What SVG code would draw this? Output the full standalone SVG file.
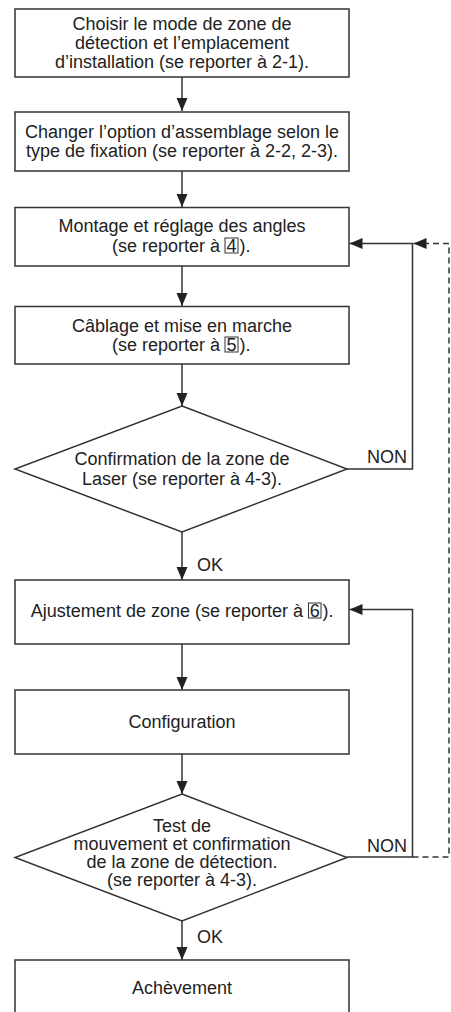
<svg xmlns="http://www.w3.org/2000/svg" width="451" height="1012" viewBox="0 0 451 1012">
<style>
.box{fill:#fff;stroke:#333;stroke-width:1.5}
.t{font-family:"Liberation Sans",Arial,sans-serif;font-size:18px;fill:#222;text-anchor:middle}
.ts{font-family:"Liberation Sans",Arial,sans-serif;font-size:18px;fill:#222}
.num{fill:none;stroke:#333;stroke-width:1}
.c{fill:none;stroke:#333;stroke-width:1.5}
.d{fill:none;stroke:#333;stroke-width:1.5;stroke-dasharray:6 4}
</style>
<defs>
<marker id="ah" markerUnits="userSpaceOnUse" markerWidth="14" markerHeight="12" refX="13" refY="5.5" orient="auto">
<path d="M0,0 L13,5.5 L0,11 z" fill="#222"/>
</marker>
</defs>
<rect width="451" height="1012" fill="#fff"/>
<g id="connectors">
<path class="c" d="M182,77 V111" marker-end="url(#ah)"/>
<path class="c" d="M182,171 V207" marker-end="url(#ah)"/>
<path class="c" d="M182,266 V306" marker-end="url(#ah)"/>
<path class="c" d="M182,364 V406" marker-end="url(#ah)"/>
<path class="c" d="M182,532 V580" marker-end="url(#ah)"/>
<path class="c" d="M182,644 V690" marker-end="url(#ah)"/>
<path class="c" d="M182,754 V794" marker-end="url(#ah)"/>
<path class="c" d="M182,921 V960" marker-end="url(#ah)"/>
<path class="c" d="M347,469 H412.5 V243.5 H349.5" marker-end="url(#ah)"/>
<path class="c" d="M347,857 H412.5 V609.5 H349.5" marker-end="url(#ah)"/>
<path class="d" d="M412.5,857 H449 V243.5 H413.5" marker-end="url(#ah)"/>
<text class="ts" x="367" y="463">NON</text>
<text class="ts" x="367" y="852">NON</text>
<text class="ts" x="197" y="571">OK</text>
<text class="ts" x="197" y="943">OK</text>
</g>
<g id="n1">
<rect class="box" x="15" y="9" width="334" height="68"/>
<text class="t" x="182" y="29.5">Choisir le mode de zone de</text>
<text class="t" x="182" y="49">détection et l’emplacement</text>
<text class="t" x="182" y="68">d’installation (se reporter à 2-1).</text>
</g>
<g id="n2">
<rect class="box" x="15" y="112" width="334" height="59"/>
<text class="t" x="182" y="137.5">Changer l’option d’assemblage selon le</text>
<text class="t" x="182" y="156.5">type de fixation (se reporter à 2-2, 2-3).</text>
</g>
<g id="n3">
<rect class="box" x="15" y="207.5" width="334" height="58.5"/>
<text class="t" x="182" y="232">Montage et réglage des angles</text>
<text class="ts" x="220" y="252" text-anchor="end">(se reporter à</text>
<rect class="num" x="225" y="238" width="13" height="15"/>
<text class="t" x="231.5" y="252">4</text>
<text class="ts" x="239.5" y="252">).</text>
</g>
<g id="n4">
<rect class="box" x="15" y="306.5" width="334" height="57.5"/>
<text class="t" x="182" y="331.5">Câblage et mise en marche</text>
<text class="ts" x="220" y="351" text-anchor="end">(se reporter à</text>
<rect class="num" x="225" y="337" width="13" height="15"/>
<text class="t" x="231.5" y="351">5</text>
<text class="ts" x="239.5" y="351">).</text>
</g>
<g id="n5">
<path class="box" d="M182,406 L347,469 L182,532 L15,469 z"/>
<text class="t" x="182" y="465">Confirmation de la zone de</text>
<text class="t" x="182" y="485">Laser (se reporter à 4-3).</text>
</g>
<g id="n6">
<rect class="box" x="15" y="580" width="334" height="64"/>
<text class="ts" x="303" y="617" text-anchor="end">Ajustement de zone (se reporter à</text>
<rect class="num" x="308.5" y="603" width="12.5" height="15"/>
<text class="t" x="314.8" y="617">6</text>
<text class="ts" x="322.5" y="617">).</text>
</g>
<g id="n7">
<rect class="box" x="15" y="690" width="334" height="64"/>
<text class="t" x="182" y="728">Configuration</text>
</g>
<g id="n8">
<path class="box" d="M182,794 L347,857.5 L182,921 L15,857.5 z"/>
<text class="t" x="182" y="832">Test de</text>
<text class="t" x="182" y="850">mouvement et confirmation</text>
<text class="t" x="182" y="868">de la zone de détection.</text>
<text class="t" x="182" y="886">(se reporter à 4-3).</text>
</g>
<g id="n9">
<rect class="box" x="15" y="960" width="334" height="60"/>
<text class="t" x="182" y="994">Achèvement</text>
</g>
</svg>
